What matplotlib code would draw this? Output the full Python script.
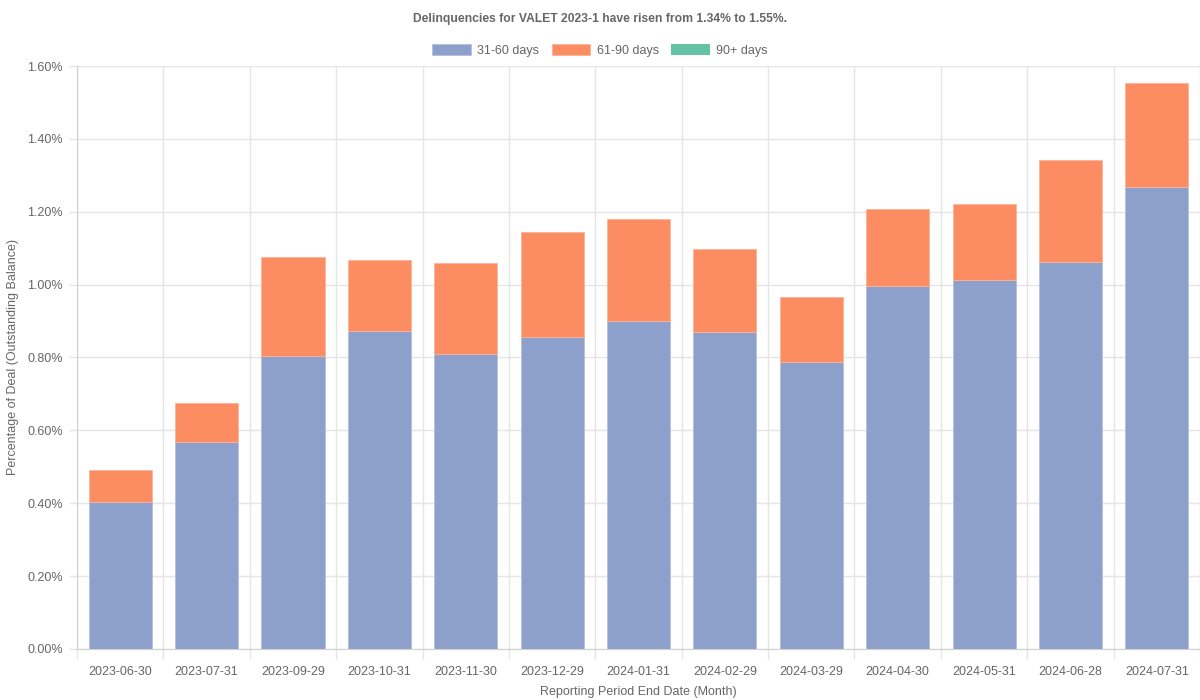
import numpy as np
import matplotlib
matplotlib.use("Agg")
import matplotlib.pyplot as plt
from matplotlib.ticker import FuncFormatter, FixedLocator

plt.rcParams["font.family"] = ["Liberation Sans", "DejaVu Sans"]

# --- data (percent of outstanding balance) ---
dates = ["2023-06-30", "2023-07-31", "2023-09-29", "2023-10-31", "2023-11-30", "2023-12-29",
         "2024-01-31", "2024-02-29", "2024-03-29", "2024-04-30", "2024-05-31", "2024-06-28",
         "2024-07-31"]
d31_60 = [0.403, 0.568, 0.804, 0.873, 0.810, 0.855, 0.900, 0.870, 0.788, 0.997, 1.014, 1.063, 1.267]
d61_90 = [0.088, 0.107, 0.273, 0.195, 0.248, 0.290, 0.280, 0.229, 0.178, 0.211, 0.208, 0.279, 0.285]
d90p   = [0.0] * 13

C_BLUE, C_ORANGE, C_GREEN = "#8da0cb", "#fc8d62", "#66c2a5"
TXT = "#666666"
GRID = "#e5e5e5"

fig = plt.figure(figsize=(12, 7), dpi=100)
ax = fig.add_axes([0.0642, 0.0729, 0.9358, 0.8328])

x = np.arange(len(dates))
w = 0.73
a = np.array(d31_60); b = np.array(d61_90); c = np.array(d90p)
ax.bar(x, a, w, color=C_BLUE, edgecolor="#b4c0de", linewidth=0.6, label="31-60 days", zorder=2)
ax.bar(x, b, w, bottom=a, color=C_ORANGE, edgecolor="#fdb397", linewidth=0.6, label="61-90 days", zorder=2)
ax.bar(x, c, w, bottom=a + b, color=C_GREEN, edgecolor=C_GREEN, linewidth=0, label="90+ days", zorder=2)

ax.set_xlim(-0.5, len(dates) - 0.5)
ax.set_ylim(0, 1.6)
ax.set_yticks(np.arange(0, 1.61, 0.2))
ax.yaxis.set_major_formatter(FuncFormatter(lambda v, p: "%.2f%%" % v))
ax.set_xticks(x)
ax.set_xticklabels(dates)
ax.xaxis.set_minor_locator(FixedLocator(np.arange(-0.5, len(dates), 1.0)))

ax.tick_params(axis="x", which="major", length=0, pad=12, labelsize=9, labelcolor=TXT)
ax.tick_params(axis="x", which="minor", length=7, color=GRID, width=1)
ax.tick_params(axis="y", length=6, color=GRID, width=1, pad=4, labelsize=9, labelcolor=TXT)

ax.grid(axis="y", which="major", color=GRID, lw=1, zorder=0)
ax.grid(axis="x", which="minor", color=GRID, lw=1, zorder=0)
ax.set_axisbelow(True)
for s in ("top", "right"):
    ax.spines[s].set_visible(False)
for s in ("left", "bottom"):
    ax.spines[s].set_color("#d0d0d0")

ax.set_xlabel("Reporting Period End Date (Month)", fontsize=9, color=TXT, labelpad=6)
ax.set_ylabel("Percentage of Deal (Outstanding Balance)", fontsize=9, color=TXT, labelpad=6)

fig.text(0.5, 0.973, "Delinquencies for VALET 2023-1 have risen from 1.34% to 1.55%.",
         ha="center", va="center", fontsize=8.7, fontweight="bold", color=TXT)
fig.legend(loc="center", bbox_to_anchor=(0.5, 0.928), ncol=3, frameon=False, fontsize=9,
           handlelength=3.1, handleheight=1.0, columnspacing=1.0, handletextpad=0.5, labelcolor=TXT)

fig.savefig("out.png", dpi=100)
